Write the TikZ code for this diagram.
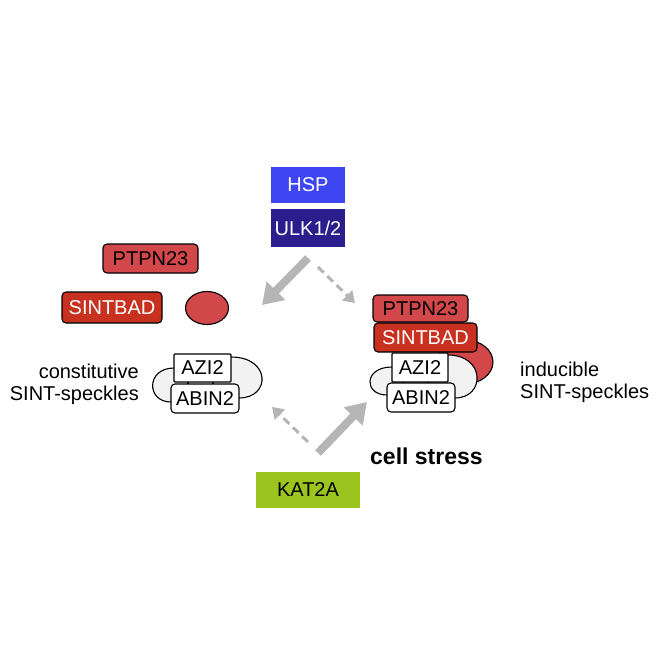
\documentclass[tikz,border=0pt]{standalone}
\usepackage{fontspec}
\setmainfont{Liberation Sans}
\usetikzlibrary{arrows.meta,shapes.geometric}
\definecolor{hspblue}{HTML}{3E46F2}
\definecolor{ulknavy}{HTML}{2B1E8C}
\definecolor{ptpred}{HTML}{D2484A}
\definecolor{sintred}{HTML}{C8301F}
\definecolor{katgreen}{HTML}{9BC41E}
\definecolor{arrowgray}{HTML}{B5B5B5}
\definecolor{blobgray}{HTML}{F2F2F2}

\begin{document}
\begin{tikzpicture}[x=1pt,y=-1pt,
  every node/.style={font=\fontsize{20}{23}\selectfont,inner sep=0pt},
  kinase/.style={draw=none,text=white},
  ptpbox/.style={draw=black,line width=1.1pt,fill=ptpred,rounded corners=4pt},
  sintbox/.style={draw=black,line width=1.1pt,fill=sintred,text=white,rounded corners=4pt},
  redblob/.style={ellipse,draw=black,line width=1.1pt,fill=ptpred},
  speckle/.style={draw=black,line width=1.1pt,fill=blobgray},
  azibox/.style={draw=black,line width=1.1pt,fill=white,rounded corners=1pt},
  abinbox/.style={draw=black,line width=1.1pt,fill=white,rounded corners=4pt},
  bigarrow/.style={draw=arrowgray,line width=8pt,-{Triangle[length=20pt,width=25pt]}},
  dasharrow/.style={draw=arrowgray,line width=3pt,dash pattern=on 8pt off 5pt,-{Triangle[length=11pt,width=14pt]}}]
\useasboundingbox (0,0) rectangle (664,664);

% kinases
\node[kinase,fill=hspblue,minimum width=74pt,minimum height=36pt] (hsp) at (308,185) {HSP};
\node[kinase,fill=ulknavy,minimum width=74pt,minimum height=38pt] (ulk) at (308,228) {ULK1/2};

% free partners
\node[ptpbox,minimum width=95pt,minimum height=29pt] (ptpL) at (150.5,258.5) {PTPN23};
\node[sintbox,minimum width=100pt,minimum height=31pt] (sintL) at (112,307.5) {SINTBAD};
\node[redblob,minimum width=43pt,minimum height=33pt] (ovalL) at (207,308) {};

% constitutive speckle
\path[speckle] (174,368) .. controls (146,368) and (146,402) .. (171,402) -- (239,398)
  .. controls (271,398) and (271,357) .. (231,357) -- (178,357) -- (178,368) -- cycle;
\draw[line width=1.1pt] (188,380) -- (188,388);
\draw[line width=1.1pt] (213,380) -- (213,388);
\node[azibox,minimum width=57pt,minimum height=28pt] (aziL) at (202.5,368) {AZI2};
\node[abinbox,minimum width=68pt,minimum height=29pt] (abinL) at (205,398.5) {ABIN2};
\node[anchor=base east] (constA) at (139,378) {constitutive};
\node[anchor=base east] (constB) at (139,400) {SINT-speckles};

% inducible speckle
\node[redblob,minimum width=56pt,minimum height=44pt] (ovalR) at (465,362) {};
\path[speckle] (392,367) .. controls (363.5,367) and (363.5,395) .. (387,395) -- (455,398)
  .. controls (485.5,398) and (485.5,355) .. (448,355) -- (396,355) -- (396,367) -- cycle;
\draw[line width=1.1pt] (403,378) -- (403,388);
\draw[line width=1.1pt] (428,378) -- (428,388);
\node[azibox,minimum width=56pt,minimum height=29pt] (aziR) at (420,367.5) {AZI2};
\node[abinbox,minimum width=68pt,minimum height=29pt] (abinR) at (421,397.5) {ABIN2};
\node[ptpbox,minimum width=95pt,minimum height=27pt] (ptpR) at (420.5,308.5) {PTPN23};
\node[sintbox,minimum width=103pt,minimum height=29pt] (sintR) at (425.5,337.5) {SINTBAD};
\node[anchor=base west] (inducA) at (520,376) {inducible};
\node[anchor=base west] (inducB) at (520,398) {SINT-speckles};

% stress input
\node[kinase,fill=katgreen,text=black,minimum width=104pt,minimum height=36pt] (kat) at (308,490) {KAT2A};
\node[anchor=base west,font=\fontsize{23}{26}\selectfont\bfseries] (stress) at (370,464) {cell stress};

% arrows
\coordinate (ulkfoot) at (308,258);
\coordinate (toconst) at (262,305);
\coordinate (ulkside) at (318,267);
\coordinate (toinduc) at (355,303);
\coordinate (kattop) at (308,442);
\coordinate (backconst) at (272,407);
\coordinate (katside) at (318,453);
\coordinate (upinduc) at (367,402);
\draw[bigarrow] (ulkfoot) -- (toconst);
\draw[dasharrow] (ulkside) -- (toinduc);
\draw[dasharrow] (kattop) -- (backconst);
\draw[bigarrow] (katside) -- (upinduc);
\end{tikzpicture}
\end{document}
